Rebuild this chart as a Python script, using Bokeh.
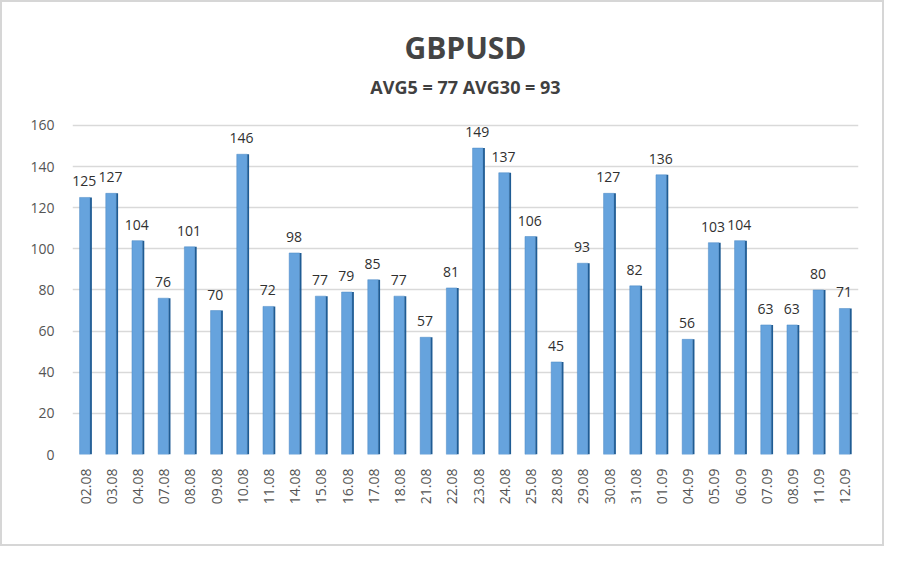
from bokeh.plotting import figure
from bokeh.models import Range1d, FixedTicker, Label, ColumnDataSource
from bokeh.transform import dodge
from bokeh.core.properties import value
from bokeh.embed import file_html
from bokeh.resources import INLINE

dates = ["02.08", "03.08", "04.08", "07.08", "08.08", "09.08", "10.08", "11.08",
         "14.08", "15.08", "16.08", "17.08", "18.08", "21.08", "22.08", "23.08",
         "24.08", "25.08", "28.08", "29.08", "30.08", "31.08", "01.09", "04.09",
         "05.09", "06.09", "07.09", "08.09", "11.09", "12.09"]
values = [125, 127, 104, 76, 101, 70, 146, 72, 98, 77, 79, 85, 77, 57, 81, 149,
          137, 106, 45, 93, 127, 82, 136, 56, 103, 104, 63, 63, 80, 71]
y_ticks = [0, 20, 40, 60, 80, 100, 120, 140, 160]
title_text = "GBPUSD"
subtitle_text = "AVG5 = 77 AVG30 = 93"

src = ColumnDataSource(dict(d=dates, v=values, t=[str(v) for v in values]))

W, H = 884, 546
p = figure(width=W, height=H, x_range=dates, y_range=Range1d(0, 212.5),
           output_backend="svg", toolbar_location=None,
           min_border_left=70, min_border_right=28, min_border_top=15,
           min_border_bottom=94)
p.styles = {"border": "2px solid #d6d6d6", "box-sizing": "border-box"}
p.outline_line_color = None
p.background_fill_color = "white"
p.border_fill_color = "white"

# bars: front face + darker side strip
p.vbar(x=dodge("d", -0.03, range=p.x_range), top="v", width=0.40, bottom=0,
       source=src, fill_color="#66a3dd", line_color="#4a88c4", line_width=0.5)
p.vbar(x=dodge("d", 0.205, range=p.x_range), top="v", width=0.07, bottom=0,
       source=src, fill_color="#1f5c94", line_color=None)

p.text(x=dodge("d", -0.05, range=p.x_range), y="v", text="t", source=src,
       text_align="center", text_baseline="bottom", y_offset=-11,
       text_font_size="14px", text_color="#303030",
       text_font=value("Open Sans"))

p.yaxis.ticker = FixedTicker(ticks=y_ticks)
p.ygrid.ticker = FixedTicker(ticks=y_ticks)
p.ygrid.grid_line_color = "#d9d9d9"
p.ygrid.grid_line_width = 1.5
p.xgrid.grid_line_color = None
p.yaxis.axis_line_color = None
p.yaxis.major_tick_line_color = None
p.yaxis.minor_tick_line_color = None
p.yaxis.major_label_text_font_size = "14px"
p.yaxis.major_label_text_color = "#555555"
p.yaxis.major_label_text_font = "Open Sans"
p.yaxis.major_label_standoff = 12

p.xaxis.axis_line_color = None
p.xaxis.major_tick_line_color = None
p.xaxis.minor_tick_line_color = None
p.xaxis.major_label_orientation = 1.5708
p.xaxis.major_label_text_font_size = "14px"
p.xaxis.major_label_text_color = "#555555"
p.xaxis.major_label_text_font = "Open Sans"
p.xaxis.major_label_standoff = 8

p.add_layout(Label(x=15, y=198, text=title_text, text_align="center",
                   text_baseline="middle", text_font_size="30px",
                   text_font_style="bold", text_color="#444444",
                   text_font="Open Sans"))
p.add_layout(Label(x=15, y=178.5, text=subtitle_text, text_align="center",
                   text_baseline="middle", text_font_size="18px",
                   text_font_style="bold", text_color="#404040",
                   text_font="Open Sans"))

open("out.html", "w").write(file_html(p, INLINE))
